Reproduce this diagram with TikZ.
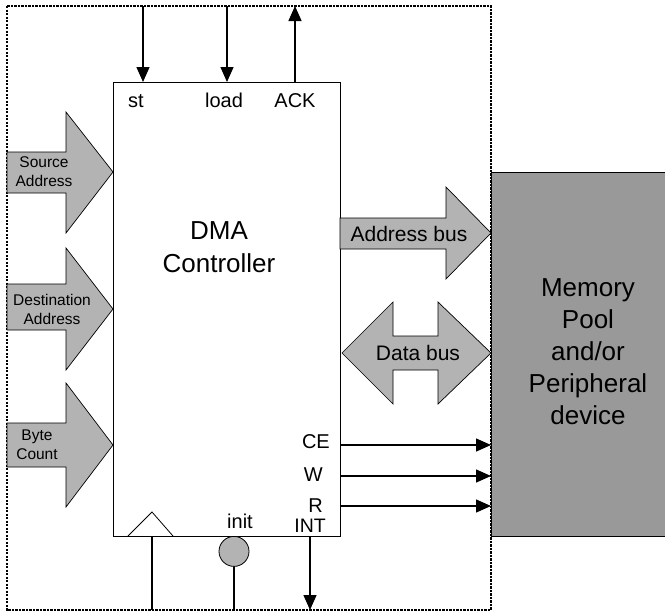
\documentclass[tikz,border=0pt]{standalone}
\usepackage{fontspec}
\setmainfont{Liberation Sans}
\usetikzlibrary{arrows.meta}
\definecolor{arrowgray}{HTML}{B3B3B3}
\definecolor{memgray}{HTML}{999999}
\begin{document}
\begin{tikzpicture}[x=1pt,y=-1pt,
  blockarrow/.style={draw=black, fill=arrowgray, line width=0.7pt, line join=miter},
  sig/.style={line width=1.3pt, -{Triangle[length=15pt,width=13pt]}},
  wire/.style={line width=1.2pt},
  pin/.style={inner sep=0pt, font=\fontsize{20}{24}\selectfont},
  smalltxt/.style={inner sep=0pt, align=center, font=\fontsize{15.5}{19}\selectfont},
  bustxt/.style={inner sep=0pt, font=\fontsize{21}{25}\selectfont},
  bigtxt/.style={inner sep=0pt, align=center, font=\fontsize{26}{33}\selectfont}]

\useasboundingbox (0,0) rectangle (665,613);

% memory / peripheral block
\node[draw=black, fill=memgray, line width=0.8pt, minimum width=194pt, minimum height=364pt,
      anchor=north west, inner sep=0pt] (mem) at (491,172) {};
\node[bigtxt, font=\fontsize{26}{32}\selectfont] (memtext) at (588,352)
  {Memory\\Pool\\and/or\\Peripheral\\device};

% outer dashed boundary
\draw[dash pattern=on 2.2pt off 1.3pt, line width=1.2pt] (7,6) rectangle (491,610);

% DMA controller
\node[draw=black, fill=white, line width=0.8pt, minimum width=227pt, minimum height=454pt,
      anchor=north west, inner sep=0pt] (dma) at (113,82) {};
\node[bigtxt] (dmatext) at (219,247) {DMA\\Controller};

% top signals
\coordinate (stin) at (143,6);
\coordinate (loadin) at (227,6);
\coordinate (ackout) at (295,6);
\draw[sig] (stin) -- (stin |- dma.north);
\draw[sig] (loadin) -- (loadin |- dma.north);
\draw[sig] (ackout |- dma.north) -- (ackout);
\node[pin, anchor=base] (stl) at (136,107) {st};
\node[pin, anchor=base] (loadl) at (224,107) {load};
\node[pin, anchor=base] (ackl) at (295,107) {ACK};

% left block arrows
\draw[blockarrow] (7,152) -- (66,152) -- (66,112) -- (113,172) -- (66,233) -- (66,193) -- (7,193) -- cycle;
\node[smalltxt] (srcl) at (44,172) {Source\\Address};
\draw[blockarrow] (7,284) -- (66,284) -- (66,248) -- (113,309) -- (66,370) -- (66,330) -- (7,330) -- cycle;
\node[smalltxt] (dstl) at (52,309) {Destination\\Address};
\draw[blockarrow] (7,423) -- (66,423) -- (66,383) -- (113,445) -- (66,507) -- (66,467) -- (7,467) -- cycle;
\node[smalltxt] (bcl) at (37,445) {Byte\\Count};

% address bus
\draw[blockarrow] (340,218) -- (446,218) -- (446,187) -- (491,233) -- (446,279) -- (446,249) -- (340,249) -- cycle;
\node[bustxt] (abus) at (409,234) {Address bus};

% data bus
\draw[blockarrow] (342,353) -- (393,302) -- (393,336) -- (438,336) -- (438,302) -- (491,353)
  -- (438,404) -- (438,370) -- (393,370) -- (393,404) -- cycle;
\node[bustxt] (dbus) at (418,353) {Data bus};

% control lines to memory
\draw[sig] (dma.east |- 0,445) -- (mem.west |- 0,445);
\draw[sig] (dma.east |- 0,476) -- (mem.west |- 0,476);
\draw[sig] (dma.east |- 0,506) -- (mem.west |- 0,506);
\node[pin, anchor=base east] (cel) at (330,448) {CE};
\node[pin, anchor=base east] (wl) at (323,481) {W};
\node[pin, anchor=base east] (rl) at (323,512) {R};
\node[pin, anchor=base east, font=\fontsize{19.5}{24}\selectfont] (intl) at (326,532) {INT};

% bottom: clock, init, INT
\coordinate (clkin) at (152,610);
\coordinate (initin) at (234,610);
\coordinate (intout) at (310,610);
\draw[line width=0.8pt] (128,536) -- (152,512) -- (173,536);
\draw[wire] (clkin |- dma.south) -- (clkin);
\node[circle, draw=black, fill=arrowgray, line width=0.8pt, minimum size=30pt, inner sep=0pt,
      anchor=north] (initc) at (234,536) {};
\draw[wire] (initc.south) -- (initin);
\node[pin, anchor=base] (initl) at (240,528) {init};
\draw[sig] (intout |- dma.south) -- (intout);

\end{tikzpicture}
\end{document}
